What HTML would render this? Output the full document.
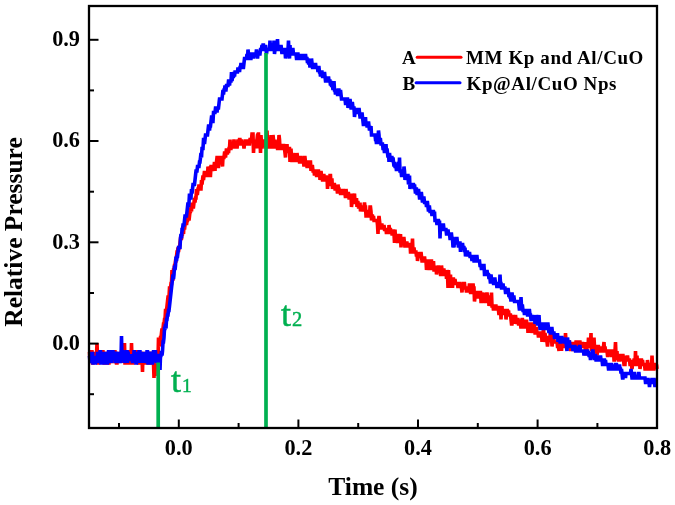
<!DOCTYPE html>
<html><head><meta charset="utf-8"><style>
html,body{margin:0;padding:0;background:#fff;width:675px;height:505px;overflow:hidden}
svg{display:block;will-change:transform}
text{font-family:"Liberation Serif",serif;font-weight:bold;fill:#000}
.tl{font-size:22.3px}
.at{font-size:25.5px}
.lg{font-size:19px;letter-spacing:0.6px}
.gt{font-weight:normal;fill:#00b050;stroke:#00b050;stroke-width:0.45px}
</style></head><body>
<svg width="675" height="505" viewBox="0 0 675 505">
<rect x="0" y="0" width="675" height="505" fill="#fff"/>
<!-- data -->
<g fill="none" stroke-linejoin="miter" stroke-miterlimit="2" stroke-linecap="butt">
<polyline stroke="#ff0000" stroke-width="3.6" points="89.0,351.8 89.5,351.8 90.0,363.0 90.5,355.9 91.0,355.9 91.5,351.8 92.0,351.8 92.5,363.0 93.0,363.0 93.5,351.8 94.0,359.4 94.5,351.8 95.0,359.4 95.5,351.8 96.0,363.0 96.5,355.9 97.0,343.0 97.5,355.9 98.0,363.0 98.5,363.0 99.0,351.8 99.5,351.8 100.0,351.8 100.5,351.8 101.0,363.0 101.5,359.4 102.0,355.9 102.5,351.8 103.0,351.8 103.5,359.4 104.0,363.0 104.5,363.0 105.0,355.9 105.5,363.0 106.0,351.8 106.5,355.9 107.0,363.0 107.5,363.0 108.0,363.0 108.5,363.0 109.0,363.0 109.5,355.9 110.0,355.9 110.5,351.8 111.0,363.0 111.5,355.9 112.0,351.8 112.5,363.0 113.0,355.9 113.5,355.9 114.0,363.0 114.5,351.8 115.0,351.8 115.5,359.4 116.0,351.8 116.5,363.0 117.0,363.0 117.5,351.8 118.0,363.0 118.5,355.9 119.0,359.4 119.5,355.9 120.0,363.0 120.5,351.8 121.0,363.0 121.5,351.8 122.0,351.8 122.5,363.0 123.0,351.8 123.5,351.8 124.0,359.4 124.5,343.0 125.0,363.0 125.5,363.0 126.0,351.8 126.5,351.8 127.0,363.0 127.5,363.0 128.0,363.0 128.5,355.9 129.0,359.4 129.5,351.8 130.0,351.8 130.5,363.0 131.0,363.0 131.5,343.0 132.0,359.4 132.5,363.0 133.0,363.0 133.5,351.8 134.0,351.8 134.5,351.8 135.0,351.8 135.5,355.9 136.0,355.9 136.5,355.9 137.0,351.8 137.5,351.8 138.0,351.8 138.5,363.0 139.0,363.0 139.5,363.0 140.0,355.9 140.5,363.0 141.0,351.8 141.5,355.9 142.0,355.9 142.5,372.0 143.0,351.8 143.5,363.0 144.0,355.9 144.5,363.0 145.0,351.8 145.5,363.0 146.0,363.0 146.5,363.0 147.0,351.8 147.5,363.0 148.0,363.0 148.5,351.8 149.0,355.9 149.5,355.9 150.0,363.0 150.5,363.0 151.0,351.8 151.5,355.9 152.0,363.0 152.5,351.8 153.0,363.0 153.5,363.0 154.0,378.0 154.5,351.8 155.0,376.0 155.5,355.9 156.0,363.0 156.5,351.8 157.0,351.8 157.5,351.8 158.0,359.4 158.5,337.5 159.0,342.0 159.5,342.0 160.0,346.5 160.5,337.5 161.0,337.5 161.5,333.0 162.0,328.5 162.5,333.0 163.0,328.5 163.5,324.0 164.0,324.0 164.5,319.5 165.0,319.5 165.5,310.5 166.0,310.5 166.5,310.5 167.0,306.0 167.5,301.5 168.0,297.0 168.5,297.0 169.0,297.0 169.5,288.0 170.0,288.0 170.5,288.0 171.0,283.5 171.5,283.5 172.0,270.0 172.5,279.0 173.0,279.0 173.5,270.0 174.0,270.0 174.5,265.5 175.0,265.5 175.5,261.0 176.0,261.0 176.5,256.5 177.0,252.0 177.5,252.0 178.0,247.5 178.5,252.0 179.0,247.5 179.5,247.5 180.0,243.0 180.5,238.5 181.0,238.5 181.5,238.5 182.0,234.0 182.5,234.0 183.0,229.5 183.5,234.0 184.0,225.0 184.5,229.5 185.0,225.0 185.5,220.5 186.0,220.5 186.5,225.0 187.0,220.5 187.5,220.5 188.0,216.0 188.5,211.5 189.0,220.5 189.5,216.0 190.0,211.5 190.5,211.5 191.0,207.0 191.5,211.5 192.0,202.5 192.5,207.0 193.0,207.0 193.5,207.0 194.0,202.5 194.5,198.0 195.0,202.5 195.5,198.0 196.0,198.0 196.5,189.0 197.0,193.5 197.5,193.5 198.0,189.0 198.5,189.0 199.0,184.5 199.5,189.0 200.0,184.5 200.5,189.0 201.0,189.0 201.5,180.0 202.0,184.5 202.5,180.0 203.0,175.5 203.5,180.0 204.0,175.5 204.5,171.0 205.0,175.5 205.5,175.5 206.0,175.5 206.5,171.0 207.0,175.5 207.5,175.5 208.0,166.5 208.5,171.0 209.0,171.0 209.5,166.5 210.0,175.5 210.5,175.5 211.0,166.5 211.5,166.5 212.0,166.5 212.5,171.0 213.0,166.5 213.5,166.5 214.0,166.5 214.5,162.0 215.0,171.0 215.5,162.0 216.0,166.5 216.5,162.0 217.0,157.5 217.5,157.5 218.0,166.5 218.5,166.5 219.0,157.5 219.5,157.5 220.0,157.5 220.5,157.5 221.0,162.0 221.5,157.5 222.0,162.0 222.5,166.5 223.0,157.5 223.5,157.5 224.0,157.5 224.5,153.0 225.0,153.0 225.5,157.5 226.0,153.0 226.5,148.5 227.0,153.0 227.5,153.0 228.0,148.5 228.5,153.0 229.0,148.5 229.5,148.5 230.0,139.5 230.5,148.5 231.0,148.5 231.5,144.0 232.0,144.0 232.5,148.5 233.0,144.0 233.5,144.0 234.0,139.5 234.5,144.0 235.0,148.5 235.5,144.0 236.0,148.5 236.5,144.0 237.0,148.5 237.5,144.0 238.0,139.5 238.5,144.0 239.0,144.0 239.5,139.5 240.0,139.5 240.5,144.0 241.0,144.0 241.5,139.5 242.0,144.0 242.5,144.0 243.0,144.0 243.5,144.0 244.0,148.5 244.5,144.0 245.0,144.0 245.5,139.5 246.0,144.0 246.5,144.0 247.0,139.5 247.5,144.0 248.0,144.0 248.5,144.0 249.0,144.0 249.5,144.0 250.0,139.5 250.5,139.5 251.0,139.5 251.5,139.5 252.0,134.0 252.5,134.0 253.0,134.0 253.5,153.0 254.0,144.0 254.5,144.0 255.0,144.0 255.5,148.5 256.0,139.5 256.5,148.5 257.0,139.5 257.5,135.0 258.0,134.0 258.5,134.0 259.0,148.5 259.5,139.5 260.0,139.5 260.5,153.0 261.0,135.0 261.5,144.0 262.0,148.5 262.5,144.0 263.0,144.0 263.5,144.0 264.0,144.0 264.5,139.5 265.0,144.0 265.5,144.0 266.0,148.5 266.5,144.0 267.0,130.5 267.5,144.0 268.0,144.0 268.5,144.0 269.0,144.0 269.5,148.5 270.0,144.0 270.5,144.0 271.0,135.0 271.5,144.0 272.0,148.5 272.5,144.0 273.0,135.0 273.5,139.5 274.0,144.0 274.5,144.0 275.0,139.5 275.5,148.5 276.0,144.0 276.5,148.5 277.0,144.0 277.5,148.5 278.0,148.5 278.5,144.0 279.0,135.0 279.5,139.5 280.0,148.5 280.5,144.0 281.0,148.5 281.5,148.5 282.0,148.5 282.5,148.5 283.0,148.5 283.5,144.0 284.0,148.5 284.5,148.5 285.0,153.0 285.5,157.5 286.0,148.5 286.5,148.5 287.0,144.0 287.5,153.0 288.0,148.5 288.5,148.5 289.0,148.5 289.5,148.5 290.0,162.0 290.5,153.0 291.0,148.5 291.5,157.5 292.0,162.0 292.5,157.5 293.0,157.5 293.5,157.5 294.0,157.5 294.5,157.5 295.0,153.0 295.5,162.0 296.0,157.5 296.5,162.0 297.0,153.0 297.5,157.5 298.0,162.0 298.5,157.5 299.0,157.5 299.5,162.0 300.0,162.0 300.5,157.5 301.0,157.5 301.5,162.0 302.0,162.0 302.5,162.0 303.0,162.0 303.5,162.0 304.0,166.5 304.5,157.5 305.0,157.5 305.5,162.0 306.0,162.0 306.5,162.0 307.0,166.5 307.5,166.5 308.0,162.0 308.5,162.0 309.0,162.0 309.5,166.5 310.0,162.0 310.5,162.0 311.0,171.0 311.5,166.5 312.0,166.5 312.5,166.5 313.0,171.0 313.5,171.0 314.0,171.0 314.5,175.5 315.0,171.0 315.5,171.0 316.0,171.0 316.5,175.5 317.0,175.5 317.5,175.5 318.0,171.0 318.5,171.0 319.0,175.5 319.5,171.0 320.0,180.0 320.5,175.5 321.0,171.0 321.5,175.5 322.0,175.5 322.5,180.0 323.0,180.0 323.5,175.5 324.0,175.5 324.5,180.0 325.0,180.0 325.5,180.0 326.0,175.5 326.5,180.0 327.0,175.5 327.5,189.0 328.0,180.0 328.5,175.5 329.0,184.5 329.5,184.5 330.0,175.5 330.5,175.5 331.0,184.5 331.5,180.0 332.0,180.0 332.5,189.0 333.0,184.5 333.5,184.5 334.0,184.5 334.5,184.5 335.0,189.0 335.5,189.0 336.0,189.0 336.5,189.0 337.0,189.0 337.5,193.5 338.0,184.5 338.5,189.0 339.0,189.0 339.5,193.5 340.0,189.0 340.5,193.5 341.0,193.5 341.5,193.5 342.0,193.5 342.5,189.0 343.0,193.5 343.5,189.0 344.0,193.5 344.5,193.5 345.0,193.5 345.5,198.0 346.0,189.0 346.5,193.5 347.0,193.5 347.5,198.0 348.0,193.5 348.5,193.5 349.0,198.0 349.5,198.0 350.0,198.0 350.5,198.0 351.0,193.5 351.5,207.0 352.0,202.5 352.5,198.0 353.0,198.0 353.5,202.5 354.0,198.0 354.5,193.5 355.0,202.5 355.5,202.5 356.0,202.5 356.5,198.0 357.0,207.0 357.5,202.5 358.0,202.5 358.5,207.0 359.0,207.0 359.5,207.0 360.0,202.5 360.5,211.5 361.0,207.0 361.5,211.5 362.0,207.0 362.5,207.0 363.0,207.0 363.5,211.5 364.0,207.0 364.5,202.5 365.0,207.0 365.5,207.0 366.0,216.0 366.5,216.0 367.0,211.5 367.5,216.0 368.0,211.5 368.5,211.5 369.0,216.0 369.5,216.0 370.0,207.0 370.5,207.0 371.0,211.5 371.5,220.5 372.0,216.0 372.5,216.0 373.0,220.5 373.5,216.0 374.0,220.5 374.5,220.5 375.0,220.5 375.5,220.5 376.0,220.5 376.5,220.5 377.0,220.5 377.5,225.0 378.0,234.0 378.5,220.5 379.0,216.0 379.5,220.5 380.0,225.0 380.5,225.0 381.0,229.5 381.5,225.0 382.0,225.0 382.5,229.5 383.0,225.0 383.5,229.5 384.0,225.0 384.5,229.5 385.0,229.5 385.5,229.5 386.0,229.5 386.5,234.0 387.0,229.5 387.5,229.5 388.0,229.5 388.5,234.0 389.0,225.0 389.5,229.5 390.0,229.5 390.5,229.5 391.0,234.0 391.5,229.5 392.0,234.0 392.5,234.0 393.0,234.0 393.5,229.5 394.0,234.0 394.5,243.0 395.0,229.5 395.5,238.5 396.0,238.5 396.5,234.0 397.0,238.5 397.5,243.0 398.0,238.5 398.5,234.0 399.0,238.5 399.5,238.5 400.0,238.5 400.5,234.0 401.0,247.5 401.5,238.5 402.0,238.5 402.5,238.5 403.0,243.0 403.5,238.5 404.0,238.5 404.5,243.0 405.0,247.5 405.5,243.0 406.0,247.5 406.5,243.0 407.0,243.0 407.5,247.5 408.0,243.0 408.5,247.5 409.0,243.0 409.5,247.5 410.0,243.0 410.5,252.0 411.0,252.0 411.5,247.5 412.0,247.5 412.5,238.5 413.0,252.0 413.5,252.0 414.0,247.5 414.5,252.0 415.0,252.0 415.5,252.0 416.0,252.0 416.5,256.5 417.0,252.0 417.5,261.0 418.0,256.5 418.5,256.5 419.0,256.5 419.5,256.5 420.0,252.0 420.5,256.5 421.0,252.0 421.5,256.5 422.0,261.0 422.5,261.0 423.0,261.0 423.5,256.5 424.0,261.0 424.5,256.5 425.0,261.0 425.5,261.0 426.0,261.0 426.5,270.0 427.0,265.5 427.5,270.0 428.0,261.0 428.5,261.0 429.0,265.5 429.5,270.0 430.0,261.0 430.5,265.5 431.0,261.0 431.5,261.0 432.0,270.0 432.5,265.5 433.0,265.5 433.5,261.0 434.0,270.0 434.5,270.0 435.0,270.0 435.5,270.0 436.0,265.5 436.5,274.5 437.0,270.0 437.5,270.0 438.0,270.0 438.5,265.5 439.0,270.0 439.5,270.0 440.0,270.0 440.5,274.5 441.0,274.5 441.5,265.5 442.0,270.0 442.5,274.5 443.0,274.5 443.5,270.0 444.0,270.0 444.5,274.5 445.0,274.5 445.5,274.5 446.0,270.0 446.5,279.0 447.0,270.0 447.5,274.5 448.0,288.0 448.5,270.0 449.0,279.0 449.5,274.5 450.0,283.5 450.5,274.5 451.0,288.0 451.5,279.0 452.0,279.0 452.5,288.0 453.0,279.0 453.5,279.0 454.0,283.5 454.5,283.5 455.0,279.0 455.5,283.5 456.0,283.5 456.5,283.5 457.0,283.5 457.5,283.5 458.0,288.0 458.5,283.5 459.0,288.0 459.5,283.5 460.0,283.5 460.5,288.0 461.0,283.5 461.5,288.0 462.0,292.5 462.5,283.5 463.0,288.0 463.5,283.5 464.0,283.5 464.5,283.5 465.0,288.0 465.5,288.0 466.0,288.0 466.5,292.5 467.0,288.0 467.5,292.5 468.0,288.0 468.5,288.0 469.0,288.0 469.5,283.5 470.0,288.0 470.5,292.5 471.0,292.5 471.5,288.0 472.0,288.0 472.5,288.0 473.0,283.5 473.5,288.0 474.0,288.0 474.5,301.5 475.0,297.0 475.5,292.5 476.0,292.5 476.5,292.5 477.0,292.5 477.5,292.5 478.0,297.0 478.5,297.0 479.0,297.0 479.5,297.0 480.0,292.5 480.5,292.5 481.0,301.5 481.5,301.5 482.0,292.5 482.5,297.0 483.0,297.0 483.5,301.5 484.0,292.5 484.5,297.0 485.0,301.5 485.5,301.5 486.0,301.5 486.5,297.0 487.0,292.5 487.5,297.0 488.0,297.0 488.5,297.0 489.0,306.0 489.5,301.5 490.0,301.5 490.5,297.0 491.0,306.0 491.5,292.5 492.0,306.0 492.5,306.0 493.0,306.0 493.5,310.5 494.0,306.0 494.5,310.5 495.0,306.0 495.5,306.0 496.0,306.0 496.5,310.5 497.0,306.0 497.5,310.5 498.0,306.0 498.5,310.5 499.0,315.0 499.5,310.5 500.0,315.0 500.5,306.0 501.0,319.5 501.5,310.5 502.0,306.0 502.5,315.0 503.0,310.5 503.5,315.0 504.0,310.5 504.5,310.5 505.0,315.0 505.5,310.5 506.0,319.5 506.5,315.0 507.0,310.5 507.5,310.5 508.0,315.0 508.5,310.5 509.0,315.0 509.5,315.0 510.0,315.0 510.5,315.0 511.0,319.5 511.5,324.0 512.0,324.0 512.5,319.5 513.0,319.5 513.5,315.0 514.0,319.5 514.5,315.0 515.0,324.0 515.5,315.0 516.0,319.5 516.5,319.5 517.0,324.0 517.5,319.5 518.0,319.5 518.5,324.0 519.0,324.0 519.5,319.5 520.0,324.0 520.5,324.0 521.0,328.5 521.5,324.0 522.0,319.5 522.5,319.5 523.0,324.0 523.5,328.5 524.0,324.0 524.5,328.5 525.0,324.0 525.5,319.5 526.0,328.5 526.5,319.5 527.0,328.5 527.5,324.0 528.0,333.0 528.5,324.0 529.0,328.5 529.5,324.0 530.0,324.0 530.5,324.0 531.0,333.0 531.5,328.5 532.0,324.0 532.5,324.0 533.0,324.0 533.5,333.0 534.0,324.0 534.5,328.5 535.0,333.0 535.5,333.0 536.0,328.5 536.5,328.5 537.0,333.0 537.5,333.0 538.0,333.0 538.5,337.5 539.0,333.0 539.5,337.5 540.0,333.0 540.5,337.5 541.0,333.0 541.5,333.0 542.0,342.0 542.5,333.0 543.0,337.5 543.5,324.0 544.0,342.0 544.5,337.5 545.0,333.0 545.5,337.5 546.0,342.0 546.5,337.5 547.0,342.0 547.5,346.5 548.0,342.0 548.5,337.5 549.0,337.5 549.5,342.0 550.0,337.5 550.5,328.5 551.0,337.5 551.5,337.5 552.0,346.5 552.5,342.0 553.0,337.5 553.5,333.0 554.0,342.0 554.5,342.0 555.0,342.0 555.5,342.0 556.0,342.0 556.5,342.0 557.0,342.0 557.5,346.5 558.0,346.5 558.5,346.5 559.0,351.0 559.5,342.0 560.0,342.0 560.5,346.5 561.0,342.0 561.5,351.0 562.0,342.0 562.5,346.5 563.0,346.5 563.5,342.0 564.0,342.0 564.5,346.5 565.0,346.5 565.5,333.0 566.0,342.0 566.5,342.0 567.0,342.0 567.5,342.0 568.0,346.5 568.5,342.0 569.0,342.0 569.5,342.0 570.0,346.5 570.5,351.0 571.0,342.0 571.5,346.5 572.0,342.0 572.5,351.0 573.0,346.5 573.5,342.0 574.0,346.5 574.5,346.5 575.0,346.5 575.5,346.5 576.0,342.0 576.5,342.0 577.0,346.5 577.5,346.5 578.0,342.0 578.5,351.0 579.0,346.5 579.5,342.0 580.0,342.0 580.5,346.5 581.0,346.5 581.5,346.5 582.0,346.5 582.5,342.0 583.0,346.5 583.5,346.5 584.0,346.5 584.5,346.5 585.0,342.0 585.5,355.5 586.0,342.0 586.5,355.5 587.0,346.5 587.5,346.5 588.0,346.5 588.5,337.5 589.0,342.0 589.5,346.5 590.0,337.5 590.5,342.0 591.0,333.0 591.5,351.0 592.0,342.0 592.5,346.5 593.0,346.5 593.5,346.5 594.0,337.5 594.5,346.5 595.0,346.5 595.5,351.0 596.0,351.0 596.5,346.5 597.0,355.5 597.5,351.0 598.0,346.5 598.5,346.5 599.0,351.0 599.5,346.5 600.0,351.0 600.5,351.0 601.0,346.5 601.5,351.0 602.0,351.0 602.5,351.0 603.0,351.0 603.5,346.5 604.0,342.0 604.5,351.0 605.0,346.5 605.5,351.0 606.0,351.0 606.5,351.0 607.0,351.0 607.5,355.5 608.0,355.5 608.5,351.0 609.0,351.0 609.5,351.0 610.0,351.0 610.5,355.5 611.0,351.0 611.5,355.5 612.0,355.5 612.5,351.0 613.0,351.0 613.5,351.0 614.0,360.0 614.5,360.0 615.0,351.0 615.5,342.0 616.0,355.5 616.5,355.5 617.0,351.0 617.5,360.0 618.0,355.5 618.5,360.0 619.0,360.0 619.5,360.0 620.0,360.0 620.5,355.5 621.0,355.5 621.5,355.5 622.0,360.0 622.5,355.5 623.0,355.5 623.5,360.0 624.0,364.5 624.5,364.5 625.0,364.5 625.5,355.5 626.0,360.0 626.5,360.0 627.0,360.0 627.5,355.5 628.0,360.0 628.5,360.0 629.0,360.0 629.5,360.0 630.0,364.5 630.5,364.5 631.0,364.5 631.5,364.5 632.0,369.0 632.5,364.5 633.0,360.0 633.5,364.5 634.0,360.0 634.5,360.0 635.0,364.5 635.5,351.0 636.0,364.5 636.5,364.5 637.0,355.5 637.5,364.5 638.0,364.5 638.5,364.5 639.0,360.0 639.5,360.0 640.0,369.0 640.5,364.5 641.0,360.0 641.5,360.0 642.0,364.5 642.5,360.0 643.0,364.5 643.5,364.5 644.0,364.5 644.5,364.5 645.0,369.0 645.5,369.0 646.0,364.5 646.5,369.0 647.0,369.0 647.5,360.0 648.0,364.5 648.5,364.5 649.0,364.5 649.5,369.0 650.0,369.0 650.5,369.0 651.0,369.0 651.5,369.0 652.0,355.5 652.5,364.5 653.0,369.0 653.5,369.0 654.0,369.0 654.5,364.5 655.0,364.5 655.5,364.5 656.0,369.0 656.5,364.5 657.0,369.0"/>
<polyline stroke="#0000ff" stroke-width="3.6" points="89.0,355.9 89.5,355.9 90.0,363.0 90.5,351.8 91.0,363.0 91.5,359.4 92.0,359.4 92.5,351.8 93.0,363.0 93.5,363.0 94.0,363.0 94.5,359.4 95.0,363.0 95.5,363.0 96.0,355.9 96.5,359.4 97.0,363.0 97.5,351.8 98.0,363.0 98.5,355.9 99.0,363.0 99.5,359.4 100.0,351.8 100.5,351.8 101.0,363.0 101.5,363.0 102.0,363.0 102.5,363.0 103.0,351.8 103.5,363.0 104.0,363.0 104.5,363.0 105.0,363.0 105.5,351.8 106.0,363.0 106.5,363.0 107.0,363.0 107.5,363.0 108.0,359.4 108.5,351.8 109.0,351.8 109.5,363.0 110.0,355.9 110.5,351.8 111.0,359.4 111.5,363.0 112.0,351.8 112.5,351.8 113.0,351.8 113.5,359.4 114.0,355.9 114.5,351.8 115.0,355.9 115.5,363.0 116.0,351.8 116.5,355.9 117.0,351.8 117.5,363.0 118.0,359.4 118.5,359.4 119.0,359.4 119.5,363.0 120.0,351.8 120.5,363.0 121.0,359.4 121.5,336.0 122.0,359.4 122.5,351.8 123.0,351.8 123.5,359.4 124.0,351.8 124.5,363.0 125.0,359.4 125.5,355.9 126.0,355.9 126.5,351.8 127.0,351.8 127.5,363.0 128.0,351.8 128.5,355.9 129.0,359.4 129.5,355.9 130.0,355.9 130.5,355.9 131.0,359.4 131.5,359.4 132.0,355.9 132.5,363.0 133.0,355.9 133.5,363.0 134.0,351.8 134.5,351.8 135.0,355.9 135.5,351.8 136.0,363.0 136.5,363.0 137.0,351.8 137.5,363.0 138.0,351.8 138.5,355.9 139.0,351.8 139.5,351.8 140.0,351.8 140.5,363.0 141.0,351.8 141.5,363.0 142.0,351.8 142.5,359.4 143.0,351.8 143.5,363.0 144.0,351.8 144.5,363.0 145.0,351.8 145.5,359.4 146.0,355.9 146.5,363.0 147.0,351.8 147.5,351.8 148.0,363.0 148.5,363.0 149.0,351.8 149.5,355.9 150.0,351.8 150.5,355.9 151.0,351.8 151.5,363.0 152.0,363.0 152.5,363.0 153.0,359.4 153.5,351.8 154.0,351.8 154.5,355.9 155.0,351.8 155.5,351.8 156.0,359.4 156.5,363.0 157.0,359.4 157.5,359.4 158.0,355.9 158.5,355.5 159.0,355.5 159.5,360.0 160.0,370.0 160.5,355.5 161.0,355.5 161.5,351.0 162.0,355.5 162.5,351.0 163.0,342.0 163.5,342.0 164.0,337.5 164.5,328.5 165.0,328.5 165.5,324.0 166.0,328.5 166.5,319.5 167.0,319.5 167.5,315.0 168.0,315.0 168.5,310.5 169.0,310.5 169.5,306.0 170.0,301.5 170.5,297.0 171.0,292.5 171.5,288.0 172.0,283.5 172.5,279.0 173.0,274.5 173.5,279.0 174.0,274.5 174.5,265.5 175.0,270.0 175.5,265.5 176.0,256.5 176.5,261.0 177.0,256.5 177.5,256.5 178.0,252.0 178.5,247.5 179.0,247.5 179.5,247.5 180.0,247.5 180.5,238.5 181.0,234.0 181.5,238.5 182.0,229.5 182.5,229.5 183.0,225.0 183.5,225.0 184.0,225.0 184.5,220.5 185.0,216.0 185.5,216.0 186.0,216.0 186.5,216.0 187.0,211.5 187.5,207.0 188.0,202.5 188.5,207.0 189.0,202.5 189.5,193.5 190.0,198.0 190.5,198.0 191.0,198.0 191.5,189.0 192.0,193.5 192.5,189.0 193.0,184.5 193.5,184.5 194.0,184.5 194.5,184.5 195.0,180.0 195.5,175.5 196.0,171.0 196.5,171.0 197.0,171.0 197.5,166.5 198.0,166.5 198.5,166.5 199.0,166.5 199.5,162.0 200.0,162.0 200.5,157.5 201.0,153.0 201.5,157.5 202.0,148.5 202.5,148.5 203.0,148.5 203.5,139.5 204.0,139.5 204.5,144.0 205.0,139.5 205.5,135.0 206.0,135.0 206.5,135.0 207.0,135.0 207.5,135.0 208.0,130.5 208.5,126.0 209.0,126.0 209.5,130.5 210.0,126.0 210.5,126.0 211.0,121.5 211.5,117.0 212.0,117.0 212.5,121.5 213.0,121.5 213.5,112.5 214.0,112.5 214.5,112.5 215.0,112.5 215.5,108.0 216.0,108.0 216.5,108.0 217.0,112.5 217.5,108.0 218.0,108.0 218.5,108.0 219.0,103.5 219.5,99.0 220.0,99.0 220.5,99.0 221.0,99.0 221.5,99.0 222.0,99.0 222.5,94.5 223.0,90.0 223.5,94.5 224.0,90.0 224.5,90.0 225.0,85.5 225.5,90.0 226.0,90.0 226.5,85.5 227.0,85.5 227.5,85.5 228.0,85.5 228.5,81.0 229.0,81.0 229.5,85.5 230.0,81.0 230.5,81.0 231.0,81.0 231.5,72.0 232.0,81.0 232.5,76.5 233.0,76.5 233.5,76.5 234.0,72.0 234.5,76.5 235.0,72.0 235.5,72.0 236.0,72.0 236.5,72.0 237.0,72.0 237.5,72.0 238.0,67.5 238.5,72.0 239.0,67.5 239.5,72.0 240.0,67.5 240.5,67.5 241.0,63.0 241.5,67.5 242.0,67.5 242.5,63.0 243.0,67.5 243.5,67.5 244.0,63.0 244.5,58.5 245.0,58.5 245.5,58.5 246.0,58.5 246.5,58.5 247.0,54.0 247.5,58.5 248.0,49.5 248.5,54.0 249.0,58.5 249.5,58.5 250.0,58.5 250.5,58.5 251.0,58.5 251.5,54.0 252.0,54.0 252.5,54.0 253.0,54.0 253.5,58.5 254.0,54.0 254.5,54.0 255.0,54.0 255.5,54.0 256.0,54.0 256.5,49.5 257.0,54.0 257.5,58.5 258.0,54.0 258.5,54.0 259.0,54.0 259.5,54.0 260.0,54.0 260.5,49.5 261.0,49.5 261.5,49.5 262.0,45.0 262.5,49.5 263.0,45.0 263.5,45.0 264.0,49.5 264.5,49.5 265.0,49.5 265.5,45.0 266.0,49.5 266.5,54.0 267.0,49.5 267.5,49.5 268.0,49.5 268.5,49.5 269.0,49.5 269.5,49.5 270.0,40.5 270.5,49.5 271.0,49.5 271.5,49.5 272.0,49.5 272.5,45.0 273.0,45.0 273.5,49.5 274.0,40.5 274.5,54.0 275.0,49.5 275.5,49.5 276.0,49.5 276.5,45.0 277.0,49.5 277.5,39.0 278.0,49.5 278.5,49.5 279.0,49.5 279.5,49.5 280.0,49.5 280.5,49.5 281.0,45.0 281.5,49.5 282.0,54.0 282.5,49.5 283.0,54.0 283.5,49.5 284.0,49.5 284.5,49.5 285.0,49.5 285.5,58.5 286.0,54.0 286.5,49.5 287.0,49.5 287.5,49.5 288.0,49.5 288.5,40.5 289.0,54.0 289.5,58.5 290.0,45.0 290.5,54.0 291.0,54.0 291.5,49.5 292.0,54.0 292.5,49.5 293.0,49.5 293.5,54.0 294.0,54.0 294.5,54.0 295.0,54.0 295.5,54.0 296.0,54.0 296.5,58.5 297.0,58.5 297.5,54.0 298.0,54.0 298.5,58.5 299.0,58.5 299.5,58.5 300.0,54.0 300.5,58.5 301.0,54.0 301.5,58.5 302.0,54.0 302.5,58.5 303.0,58.5 303.5,58.5 304.0,54.0 304.5,58.5 305.0,58.5 305.5,54.0 306.0,58.5 306.5,58.5 307.0,58.5 307.5,63.0 308.0,58.5 308.5,63.0 309.0,63.0 309.5,63.0 310.0,67.5 310.5,63.0 311.0,67.5 311.5,58.5 312.0,63.0 312.5,67.5 313.0,67.5 313.5,63.0 314.0,67.5 314.5,63.0 315.0,67.5 315.5,63.0 316.0,67.5 316.5,67.5 317.0,67.5 317.5,67.5 318.0,72.0 318.5,67.5 319.0,67.5 319.5,72.0 320.0,72.0 320.5,76.5 321.0,72.0 321.5,72.0 322.0,72.0 322.5,76.5 323.0,76.5 323.5,76.5 324.0,76.5 324.5,72.0 325.0,76.5 325.5,81.0 326.0,81.0 326.5,81.0 327.0,81.0 327.5,76.5 328.0,81.0 328.5,76.5 329.0,81.0 329.5,81.0 330.0,81.0 330.5,85.5 331.0,81.0 331.5,85.5 332.0,85.5 332.5,85.5 333.0,90.0 333.5,85.5 334.0,81.0 334.5,90.0 335.0,90.0 335.5,94.5 336.0,90.0 336.5,94.5 337.0,90.0 337.5,94.5 338.0,94.5 338.5,90.0 339.0,90.0 339.5,94.5 340.0,94.5 340.5,90.0 341.0,94.5 341.5,99.0 342.0,99.0 342.5,99.0 343.0,99.0 343.5,99.0 344.0,99.0 344.5,99.0 345.0,99.0 345.5,103.5 346.0,103.5 346.5,99.0 347.0,99.0 347.5,99.0 348.0,108.0 348.5,103.5 349.0,103.5 349.5,103.5 350.0,99.0 350.5,103.5 351.0,108.0 351.5,108.0 352.0,103.5 352.5,103.5 353.0,108.0 353.5,108.0 354.0,108.0 354.5,117.0 355.0,112.5 355.5,112.5 356.0,112.5 356.5,108.0 357.0,112.5 357.5,112.5 358.0,112.5 358.5,112.5 359.0,108.0 359.5,112.5 360.0,117.0 360.5,117.0 361.0,117.0 361.5,117.0 362.0,112.5 362.5,117.0 363.0,121.5 363.5,126.0 364.0,121.5 364.5,121.5 365.0,121.5 365.5,117.0 366.0,126.0 366.5,121.5 367.0,126.0 367.5,126.0 368.0,126.0 368.5,121.5 369.0,126.0 369.5,130.5 370.0,126.0 370.5,130.5 371.0,126.0 371.5,135.0 372.0,135.0 372.5,135.0 373.0,135.0 373.5,135.0 374.0,135.0 374.5,135.0 375.0,135.0 375.5,139.5 376.0,139.5 376.5,144.0 377.0,135.0 377.5,139.5 378.0,139.5 378.5,130.5 379.0,135.0 379.5,144.0 380.0,139.5 380.5,139.5 381.0,144.0 381.5,144.0 382.0,144.0 382.5,144.0 383.0,148.5 383.5,148.5 384.0,148.5 384.5,153.0 385.0,144.0 385.5,153.0 386.0,144.0 386.5,153.0 387.0,148.5 387.5,153.0 388.0,157.5 388.5,153.0 389.0,162.0 389.5,153.0 390.0,157.5 390.5,157.5 391.0,157.5 391.5,157.5 392.0,157.5 392.5,162.0 393.0,157.5 393.5,162.0 394.0,166.5 394.5,162.0 395.0,166.5 395.5,166.5 396.0,166.5 396.5,171.0 397.0,166.5 397.5,166.5 398.0,166.5 398.5,162.0 399.0,171.0 399.5,157.5 400.0,171.0 400.5,171.0 401.0,171.0 401.5,175.5 402.0,175.5 402.5,175.5 403.0,171.0 403.5,175.5 404.0,166.5 404.5,171.0 405.0,180.0 405.5,175.5 406.0,180.0 406.5,175.5 407.0,180.0 407.5,175.5 408.0,175.5 408.5,184.5 409.0,180.0 409.5,175.5 410.0,189.0 410.5,184.5 411.0,184.5 411.5,184.5 412.0,184.5 412.5,184.5 413.0,184.5 413.5,184.5 414.0,189.0 414.5,184.5 415.0,189.0 415.5,193.5 416.0,189.0 416.5,189.0 417.0,193.5 417.5,193.5 418.0,193.5 418.5,189.0 419.0,193.5 419.5,198.0 420.0,198.0 420.5,193.5 421.0,193.5 421.5,193.5 422.0,198.0 422.5,202.5 423.0,198.0 423.5,198.0 424.0,198.0 424.5,202.5 425.0,202.5 425.5,202.5 426.0,202.5 426.5,207.0 427.0,202.5 427.5,202.5 428.0,207.0 428.5,211.5 429.0,207.0 429.5,207.0 430.0,211.5 430.5,211.5 431.0,211.5 431.5,211.5 432.0,216.0 432.5,211.5 433.0,211.5 433.5,211.5 434.0,216.0 434.5,211.5 435.0,220.5 435.5,220.5 436.0,220.5 436.5,220.5 437.0,225.0 437.5,220.5 438.0,220.5 438.5,220.5 439.0,225.0 439.5,220.5 440.0,238.5 440.5,225.0 441.0,225.0 441.5,229.5 442.0,229.5 442.5,225.0 443.0,225.0 443.5,225.0 444.0,229.5 444.5,229.5 445.0,229.5 445.5,229.5 446.0,229.5 446.5,234.0 447.0,234.0 447.5,234.0 448.0,229.5 448.5,234.0 449.0,234.0 449.5,234.0 450.0,238.5 450.5,238.5 451.0,234.0 451.5,234.0 452.0,238.5 452.5,238.5 453.0,247.5 453.5,243.0 454.0,247.5 454.5,238.5 455.0,243.0 455.5,243.0 456.0,238.5 456.5,238.5 457.0,238.5 457.5,243.0 458.0,243.0 458.5,247.5 459.0,243.0 459.5,243.0 460.0,243.0 460.5,252.0 461.0,243.0 461.5,247.5 462.0,247.5 462.5,243.0 463.0,247.5 463.5,247.5 464.0,247.5 464.5,252.0 465.0,247.5 465.5,256.5 466.0,252.0 466.5,252.0 467.0,252.0 467.5,252.0 468.0,256.5 468.5,252.0 469.0,256.5 469.5,252.0 470.0,256.5 470.5,256.5 471.0,256.5 471.5,256.5 472.0,261.0 472.5,256.5 473.0,256.5 473.5,256.5 474.0,261.0 474.5,261.0 475.0,261.0 475.5,261.0 476.0,261.0 476.5,256.5 477.0,256.5 477.5,261.0 478.0,261.0 478.5,261.0 479.0,261.0 479.5,261.0 480.0,265.5 480.5,265.5 481.0,265.5 481.5,270.0 482.0,265.5 482.5,265.5 483.0,270.0 483.5,265.5 484.0,265.5 484.5,274.5 485.0,274.5 485.5,274.5 486.0,274.5 486.5,274.5 487.0,270.0 487.5,274.5 488.0,274.5 488.5,274.5 489.0,279.0 489.5,274.5 490.0,279.0 490.5,283.5 491.0,274.5 491.5,279.0 492.0,279.0 492.5,283.5 493.0,279.0 493.5,283.5 494.0,283.5 494.5,279.0 495.0,279.0 495.5,283.5 496.0,283.5 496.5,283.5 497.0,288.0 497.5,283.5 498.0,283.5 498.5,283.5 499.0,288.0 499.5,283.5 500.0,274.5 500.5,283.5 501.0,283.5 501.5,288.0 502.0,288.0 502.5,288.0 503.0,283.5 503.5,288.0 504.0,288.0 504.5,288.0 505.0,288.0 505.5,292.5 506.0,292.5 506.5,292.5 507.0,288.0 507.5,292.5 508.0,288.0 508.5,292.5 509.0,297.0 509.5,292.5 510.0,297.0 510.5,297.0 511.0,301.5 511.5,297.0 512.0,292.5 512.5,297.0 513.0,301.5 513.5,297.0 514.0,297.0 514.5,301.5 515.0,301.5 515.5,301.5 516.0,301.5 516.5,301.5 517.0,301.5 517.5,301.5 518.0,301.5 518.5,301.5 519.0,306.0 519.5,310.5 520.0,301.5 520.5,306.0 521.0,297.0 521.5,306.0 522.0,306.0 522.5,306.0 523.0,310.5 523.5,310.5 524.0,310.5 524.5,315.0 525.0,310.5 525.5,310.5 526.0,310.5 526.5,310.5 527.0,310.5 527.5,315.0 528.0,315.0 528.5,315.0 529.0,310.5 529.5,310.5 530.0,315.0 530.5,315.0 531.0,319.5 531.5,319.5 532.0,319.5 532.5,315.0 533.0,319.5 533.5,319.5 534.0,319.5 534.5,315.0 535.0,324.0 535.5,315.0 536.0,319.5 536.5,324.0 537.0,319.5 537.5,324.0 538.0,324.0 538.5,319.5 539.0,315.0 539.5,324.0 540.0,328.5 540.5,328.5 541.0,328.5 541.5,324.0 542.0,324.0 542.5,328.5 543.0,324.0 543.5,324.0 544.0,328.5 544.5,328.5 545.0,324.0 545.5,324.0 546.0,328.5 546.5,328.5 547.0,328.5 547.5,324.0 548.0,324.0 548.5,328.5 549.0,333.0 549.5,328.5 550.0,328.5 550.5,333.0 551.0,333.0 551.5,328.5 552.0,328.5 552.5,333.0 553.0,333.0 553.5,333.0 554.0,333.0 554.5,337.5 555.0,337.5 555.5,337.5 556.0,337.5 556.5,337.5 557.0,337.5 557.5,333.0 558.0,342.0 558.5,337.5 559.0,337.5 559.5,337.5 560.0,342.0 560.5,342.0 561.0,342.0 561.5,337.5 562.0,337.5 562.5,342.0 563.0,337.5 563.5,342.0 564.0,337.5 564.5,342.0 565.0,342.0 565.5,342.0 566.0,342.0 566.5,346.5 567.0,351.0 567.5,337.5 568.0,342.0 568.5,342.0 569.0,342.0 569.5,342.0 570.0,346.5 570.5,346.5 571.0,346.5 571.5,346.5 572.0,346.5 572.5,346.5 573.0,351.0 573.5,346.5 574.0,346.5 574.5,346.5 575.0,346.5 575.5,351.0 576.0,351.0 576.5,351.0 577.0,346.5 577.5,351.0 578.0,346.5 578.5,351.0 579.0,351.0 579.5,346.5 580.0,346.5 580.5,351.0 581.0,351.0 581.5,351.0 582.0,351.0 582.5,351.0 583.0,351.0 583.5,351.0 584.0,355.5 584.5,351.0 585.0,351.0 585.5,355.5 586.0,351.0 586.5,355.5 587.0,351.0 587.5,351.0 588.0,355.5 588.5,351.0 589.0,355.5 589.5,355.5 590.0,355.5 590.5,360.0 591.0,355.5 591.5,355.5 592.0,355.5 592.5,351.0 593.0,351.0 593.5,355.5 594.0,355.5 594.5,360.0 595.0,355.5 595.5,355.5 596.0,360.0 596.5,360.0 597.0,360.0 597.5,355.5 598.0,360.0 598.5,360.0 599.0,360.0 599.5,360.0 600.0,360.0 600.5,355.5 601.0,360.0 601.5,360.0 602.0,360.0 602.5,364.5 603.0,364.5 603.5,360.0 604.0,360.0 604.5,360.0 605.0,364.5 605.5,360.0 606.0,364.5 606.5,364.5 607.0,364.5 607.5,364.5 608.0,364.5 608.5,369.0 609.0,369.0 609.5,364.5 610.0,364.5 610.5,369.0 611.0,364.5 611.5,364.5 612.0,369.0 612.5,369.0 613.0,364.5 613.5,369.0 614.0,364.5 614.5,369.0 615.0,369.0 615.5,364.5 616.0,364.5 616.5,364.5 617.0,369.0 617.5,369.0 618.0,369.0 618.5,369.0 619.0,369.0 619.5,364.5 620.0,369.0 620.5,369.0 621.0,373.5 621.5,369.0 622.0,373.5 622.5,378.0 623.0,378.0 623.5,373.5 624.0,373.5 624.5,373.5 625.0,373.5 625.5,378.0 626.0,373.5 626.5,373.5 627.0,373.5 627.5,373.5 628.0,373.5 628.5,373.5 629.0,373.5 629.5,373.5 630.0,373.5 630.5,373.5 631.0,369.0 631.5,373.5 632.0,378.0 632.5,378.0 633.0,373.5 633.5,373.5 634.0,373.5 634.5,373.5 635.0,378.0 635.5,378.0 636.0,378.0 636.5,378.0 637.0,378.0 637.5,378.0 638.0,378.0 638.5,373.5 639.0,373.5 639.5,378.0 640.0,378.0 640.5,378.0 641.0,378.0 641.5,378.0 642.0,378.0 642.5,378.0 643.0,378.0 643.5,378.0 644.0,378.0 644.5,378.0 645.0,378.0 645.5,382.5 646.0,382.5 646.5,382.5 647.0,382.5 647.5,382.5 648.0,378.0 648.5,382.5 649.0,382.5 649.5,387.0 650.0,382.5 650.5,382.5 651.0,382.5 651.5,382.5 652.0,378.0 652.5,382.5 653.0,382.5 653.5,382.5 654.0,378.0 654.5,382.5 655.0,387.0 655.5,382.5 656.0,382.5 656.5,382.5 657.0,382.5"/>
</g>
<!-- green markers -->
<line x1="158.2" y1="362.5" x2="158.2" y2="428" stroke="#00b050" stroke-width="3.7"/>
<line x1="266" y1="53" x2="266" y2="428" stroke="#00b050" stroke-width="3.7"/>
<!-- axes -->
<rect x="89" y="6" width="568" height="422" fill="none" stroke="#000" stroke-width="2.3"/>
<g stroke="#000" stroke-width="2">
<!-- y major -->
<line x1="89" y1="39.8" x2="98.5" y2="39.8"/>
<line x1="89" y1="141.0" x2="98.5" y2="141.0"/>
<line x1="89" y1="242.3" x2="98.5" y2="242.3"/>
<line x1="89" y1="343.6" x2="98.5" y2="343.6"/>
<!-- y minor -->
<line x1="89" y1="90.4" x2="94" y2="90.4"/>
<line x1="89" y1="191.7" x2="94" y2="191.7"/>
<line x1="89" y1="293.0" x2="94" y2="293.0"/>
<line x1="89" y1="394.2" x2="94" y2="394.2"/>
<!-- x major -->
<line x1="178.8" y1="428" x2="178.8" y2="419.5"/>
<line x1="298.4" y1="428" x2="298.4" y2="419.5"/>
<line x1="418.0" y1="428" x2="418.0" y2="419.5"/>
<line x1="537.6" y1="428" x2="537.6" y2="419.5"/>
<!-- x minor -->
<line x1="119" y1="428" x2="119" y2="423"/>
<line x1="238.6" y1="428" x2="238.6" y2="423"/>
<line x1="358.2" y1="428" x2="358.2" y2="423"/>
<line x1="477.8" y1="428" x2="477.8" y2="423"/>
<line x1="597.4" y1="428" x2="597.4" y2="423"/>
</g>
<!-- y tick labels -->
<g class="tl" text-anchor="end">
<text x="80" y="46">0.9</text>
<text x="80" y="147.3">0.6</text>
<text x="80" y="248.6">0.3</text>
<text x="80" y="349.9">0.0</text>
</g>
<!-- x tick labels -->
<g class="tl" text-anchor="middle">
<text x="178.8" y="455">0.0</text>
<text x="298.4" y="455">0.2</text>
<text x="418.0" y="455">0.4</text>
<text x="537.6" y="455">0.6</text>
<text x="657.2" y="455">0.8</text>
</g>
<!-- axis titles -->
<text class="at" x="373" y="495" text-anchor="middle">Time (s)</text>
<text class="at" transform="translate(22,232) rotate(-90)" text-anchor="middle">Relative Pressure</text>
<!-- legend -->
<g class="lg">
<text x="402" y="64">A</text>
<text x="466" y="64">MM Kp and Al/CuO</text>
<text x="402.5" y="89.5">B</text>
<text x="466.5" y="89.5">Kp@Al/CuO Nps</text>
</g>
<line x1="417.2" y1="57.2" x2="461" y2="57.2" stroke="#ff0000" stroke-width="3" stroke-linecap="round"/>
<line x1="416.1" y1="82.7" x2="460" y2="82.7" stroke="#0000ff" stroke-width="3" stroke-linecap="round"/>
<!-- t labels -->
<text class="gt" x="171" y="392" font-size="36">t</text>
<text class="gt" x="182" y="391.5" font-size="19.5">1</text>
<text class="gt" x="281" y="325.5" font-size="36">t</text>
<text class="gt" x="292" y="325.6" font-size="20.5">2</text>
</svg>
</body></html>
